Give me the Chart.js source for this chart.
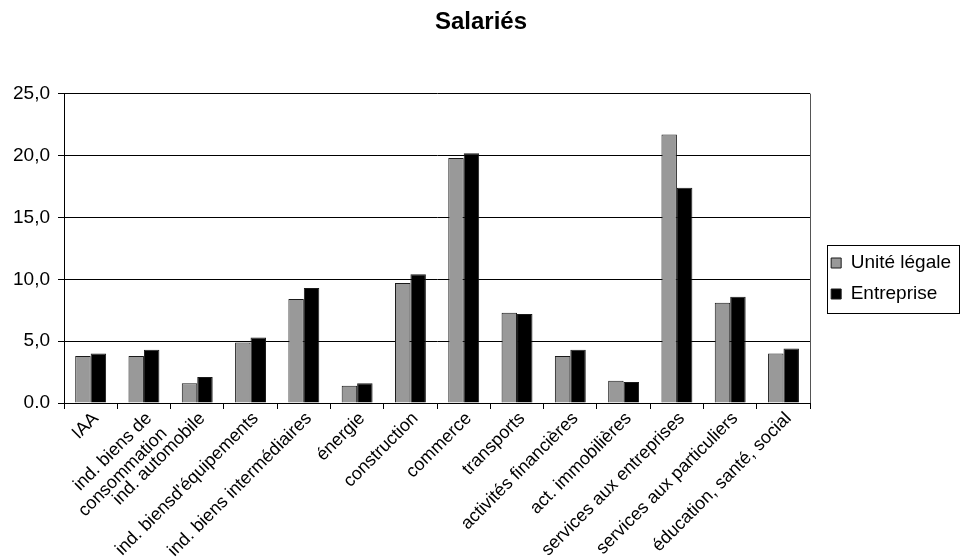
<!DOCTYPE html>
<html>
<head>
<meta charset="utf-8">
<script src="https://cdn.jsdelivr.net/npm/chart.js@4/dist/chart.umd.min.js"></script>
<style>
  html, body { margin: 0; padding: 0; background: #fff; }
  #wrap { width: 961px; height: 557px; position: relative; }
</style>
</head>
<body>
<div id="wrap"><canvas id="c"></canvas></div>
<script>
// Secteurs d'activité (axe des abscisses)
const categories = [
  'IAA',
  ['ind. biens de', 'consommation'],
  'ind. automobile',
  "ind. biensd'équipements",
  'ind. biens intermédiaires',
  'énergie',
  'construction',
  'commerce',
  'transports',
  'activités financières',
  'act. immobilières',
  'services aux entreprises',
  'services aux particuliers',
  'éducation, santé, social'
];

// Part des salariés (%) selon l'unité légale
const uniteLegale = [3.8, 3.8, 1.6, 4.9, 8.4, 1.4, 9.7, 19.8, 7.3, 3.8, 1.8, 21.7, 8.1, 4.0];
// Part des salariés (%) selon l'entreprise
const entreprise = [4.0, 4.3, 2.1, 5.3, 9.3, 1.6, 10.4, 20.2, 7.2, 4.3, 1.7, 17.4, 8.6, 4.4];

// Graduations de l'axe des ordonnées
const yTicks = [0, 5, 10, 15, 20, 25];
const yTickLabels = ['0.0', '5,0', '10,0', '15,0', '20,0', '25,0'];

const FONT = "'Liberation Sans', Arial, sans-serif";

// Décale la légende vers la droite et trace les cadres
const framePlugin = {
  id: 'frame',
  afterLayout(chart) {
    const lg = chart.legend;
    if (lg) {
      lg.left += 9;
      lg.right += 9;
    }
  },
  afterDraw(chart) {
    const ctx = chart.ctx;
    const a = chart.chartArea;
    ctx.save();
    ctx.strokeStyle = '#555';
    ctx.lineWidth = 1;
    ctx.beginPath();
    ctx.moveTo(Math.round(a.right) + 0.5, a.top);
    ctx.lineTo(Math.round(a.right) + 0.5, a.bottom);
    ctx.stroke();
    const lg = chart.legend;
    if (lg) {
      ctx.strokeStyle = '#000';
      const h = 68;
      const top = Math.round((lg.top + lg.bottom) / 2 - h / 2) + 0.5;
      ctx.strokeRect(Math.round(lg.left) + 8.5, top, 132, h);
    }
    ctx.restore();
  }
};

new Chart(document.getElementById('c'), {
  type: 'bar',
  data: {
    labels: categories,
    datasets: [
      {
        label: 'Unité légale',
        data: uniteLegale,
        backgroundColor: '#999999',
        borderColor: '#1a1a1a',
        borderWidth: 1,
        barPercentage: 1,
        categoryPercentage: 0.58
      },
      {
        label: 'Entreprise',
        data: entreprise,
        backgroundColor: '#000000',
        borderColor: '#1a1a1a',
        borderWidth: 1,
        barPercentage: 1,
        categoryPercentage: 0.58
      }
    ]
  },
  options: {
    responsive: true,
    maintainAspectRatio: false,
    animation: false,
    layout: { padding: { left: 10, right: 9, top: 0, bottom: 0 } },
    plugins: {
      title: {
        display: true,
        text: 'Salariés',
        color: '#000',
        font: { family: FONT, size: 24, weight: 'bold' },
        padding: { top: 8, bottom: 57 }
      },
      legend: {
        position: 'right',
        align: 'center',
        labels: {
          color: '#000',
          font: { family: FONT, size: 19 },
          boxWidth: 10,
          boxHeight: 10,
          padding: 12
        }
      },
      tooltip: { enabled: false }
    },
    scales: {
      x: {
        afterFit(scale) { scale.height = 154; },
        grid: {
          display: true,
          drawOnChartArea: false,
          drawTicks: true,
          tickLength: 6,
          color: '#000',
          offset: true
        },
        border: { display: true, color: '#000', width: 1 },
        ticks: {
          color: '#000',
          font: { family: FONT, size: 18 },
          maxRotation: 45,
          minRotation: 45,
          autoSkip: false,
          padding: -1,
          labelOffset: 5
        }
      },
      y: {
        min: 0,
        max: 25,
        afterFit(scale) { scale.width = 54; },
        afterBuildTicks(axis) {
          axis.ticks = yTicks.map(v => ({ value: v }));
        },
        grid: {
          color: '#000',
          lineWidth: 1,
          drawTicks: true,
          tickLength: 6
        },
        border: { display: true, color: '#000', width: 1 },
        ticks: {
          color: '#000',
          font: { family: FONT, size: 19 },
          padding: 8,
          callback(value) {
            const i = yTicks.indexOf(value);
            return i >= 0 ? yTickLabels[i] : '';
          }
        }
      }
    }
  },
  plugins: [framePlugin]
});
</script>
</body>
</html>
